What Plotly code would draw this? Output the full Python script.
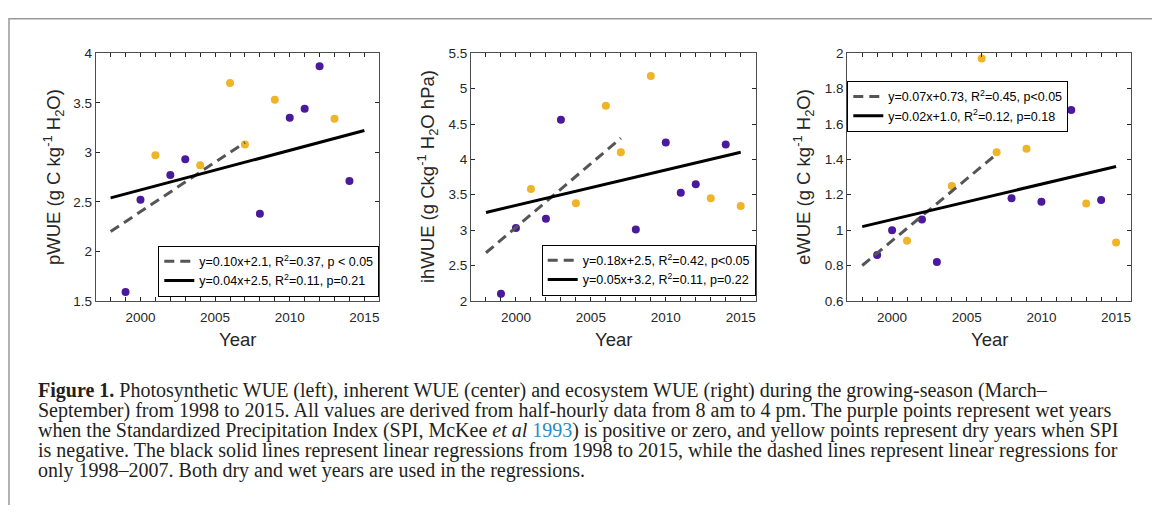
import plotly.graph_objects as go

W, H = 1152, 513

# ---------------- data ----------------
wet_years = [1999, 2000, 2002, 2003, 2008, 2010, 2011, 2012, 2014]
dry_years = [2001, 2004, 2006, 2007, 2009, 2013, 2015]
wet_years_e = [1999, 2000, 2002, 2003, 2008, 2010, 2012, 2014]

pwue_wet = [1.59, 2.52, 2.77, 2.93, 2.38, 3.35, 3.44, 3.87, 2.71]
pwue_dry = [2.97, 2.87, 3.70, 3.08, 3.53, 3.34, 2.01]
ihwue_wet = [2.10, 3.03, 3.16, 4.56, 3.01, 4.24, 3.53, 3.65, 4.21]
ihwue_dry = [3.58, 3.38, 4.76, 4.10, 5.18, 3.45, 3.34]
ewue_wet = [0.86, 1.00, 1.06, 0.82, 1.18, 1.16, 1.68, 1.17]
ewue_dry = [0.94, 1.25, 1.97, 1.44, 1.46, 1.15, 0.93]

full_years = [1998, 2015]
early_years = [1998, 2007]
pwue_full = [2.54, 3.22]
pwue_early = [2.20, 3.10]
ihwue_full = [3.25, 4.10]
ihwue_early = [2.68, 4.30]
ewue_full = [1.02, 1.36]
ewue_early = [0.80, 1.43]

labels_early = ["y=0.10x+2.1, R<sup>2</sup>=0.37, p < 0.05",
                "y=0.18x+2.5, R<sup>2</sup>=0.42, p<0.05",
                "y=0.07x+0.73, R<sup>2</sup>=0.45, p<0.05"]
labels_full = ["y=0.04x+2.5, R<sup>2</sup>=0.11, p=0.21",
               "y=0.05x+3.2, R<sup>2</sup>=0.11, p=0.22",
               "y=0.02x+1.0, R<sup>2</sup>=0.12, p=0.18"]

ytitles = ["pWUE (g C kg<sup>-1</sup> H<sub>2</sub>O)",
           "ihWUE (g Ckg<sup>-1</sup> H<sub>2</sub>O hPa)",
           "eWUE (g C kg<sup>-1</sup> H<sub>2</sub>O)"]

x_tickvals = [2000, 2005, 2010, 2015]
x_ticktext = ["2000", "2005", "2010", "2015"]
yticks_p = [1.5, 2, 2.5, 3, 3.5, 4]
yticks_ih = [2, 2.5, 3, 3.5, 4, 4.5, 5, 5.5]
yticks_e = [0.6, 0.8, 1, 1.2, 1.4, 1.6, 1.8, 2]

caption_lines = [
    "<b>Figure 1.</b> Photosynthetic WUE (left), inherent WUE (center) and ecosystem WUE (right) during the growing-season (March–",
    "September) from 1998 to 2015. All values are derived from half-hourly data from 8 am to 4 pm. The purple points represent wet years",
    "when the Standardized Precipitation Index (SPI, McKee <i>et al</i> <span style='color:#2a8ac6'>1993</span>) is positive or zero, and yellow points represent dry years when SPI",
    "is negative. The black solid lines represent linear regressions from 1998 to 2015, while the dashed lines represent linear regressions for",
    "only 1998–2007. Both dry and wet years are used in the regressions.",
]

# ---------------- styling ----------------
PURPLE = "#4b1a9c"
YELLOW = "#f0b429"
DASHGRAY = "#555555"
AXC = "#262626"
FONT = "Liberation Sans"

panels = [
    dict(wet_x=wet_years, wet=pwue_wet, dry=pwue_dry, full=pwue_full, early=pwue_early,
         yr=[1.5, 4], yt=yticks_p, px=(95.7, 379.3), title_x=53),
    dict(wet_x=wet_years, wet=ihwue_wet, dry=ihwue_dry, full=ihwue_full, early=ihwue_early,
         yr=[2, 5.5], yt=yticks_ih, px=(471.0, 755.7), title_x=427),
    dict(wet_x=wet_years_e, wet=ewue_wet, dry=ewue_dry, full=ewue_full, early=ewue_early,
         yr=[0.6, 2], yt=yticks_e, px=(847.3, 1131.0), title_x=803),
]
top_px, bot_px = 47.7, 302.7
legend_pos = [  # (x right px, y px, anchor)
    (379.3, 298.3, "bottom"),
    (755.7, 297.3, "bottom"),
    (847.3, 76.0, "top"),
]

fig = go.Figure()
layout = dict(
    width=W, height=H, margin=dict(l=0, r=0, t=0, b=0),
    paper_bgcolor="white", plot_bgcolor="white",
    font=dict(family=FONT, color=AXC),
)
annotations = []
shapes = []

for i, p in enumerate(panels):
    n = "" if i == 0 else str(i + 1)
    xa, ya = "x" + n, "y" + n
    lg = "legend" if i == 0 else "legend" + str(i + 1)
    fig.add_trace(go.Scatter(x=p["wet_x"], y=p["wet"], mode="markers", xaxis=xa, yaxis=ya,
                             marker=dict(color=PURPLE, size=8), showlegend=False))
    fig.add_trace(go.Scatter(x=dry_years, y=p["dry"], mode="markers", xaxis=xa, yaxis=ya,
                             marker=dict(color=YELLOW, size=8), showlegend=False))
    fig.add_trace(go.Scatter(x=early_years, y=p["early"], mode="lines", xaxis=xa, yaxis=ya,
                             line=dict(color=DASHGRAY, width=3, dash="10px,6px"),
                             name=labels_early[i], legend=lg))
    fig.add_trace(go.Scatter(x=full_years, y=p["full"], mode="lines", xaxis=xa, yaxis=ya,
                             line=dict(color="black", width=3),
                             name=labels_full[i], legend=lg))
    x0, x1 = p["px"]
    layout["xaxis" + n] = dict(
        domain=[x0 / W, x1 / W], range=[1997, 2016], anchor=ya,
        tickvals=x_tickvals, ticktext=x_ticktext, ticks="inside", ticklen=4,
        tickcolor=AXC, showline=True, linecolor="#4d4d4d", linewidth=1, mirror="ticks",
        showgrid=False, zeroline=False, ticklabelstandoff=4,
        minor=dict(dtick=1, tick0=1997, ticks="inside", ticklen=4, tickcolor=AXC, showgrid=False),
        tickfont=dict(family=FONT, size=13.5, color=AXC),
    )
    layout["yaxis" + n] = dict(
        domain=[1 - bot_px / H, 1 - top_px / H], range=p["yr"], anchor=xa,
        tickvals=p["yt"], ticktext=[f"{v:g}" for v in p["yt"]], ticks="inside", ticklen=4,
        tickcolor=AXC, showline=True, linecolor="#4d4d4d", linewidth=1, mirror="ticks",
        showgrid=False, zeroline=False,
        tickfont=dict(family=FONT, size=13.5, color=AXC),
    )
    lx, ly, anc = legend_pos[i]
    common = dict(bgcolor="white", bordercolor="black", borderwidth=1,
                  font=dict(family=FONT, size=12.5, color="black"),
                  itemwidth=30, tracegroupgap=0)
    if anc == "bottom":
        layout[lg] = dict(x=lx / W, xanchor="right", y=1 - ly / H, yanchor="bottom", **common)
    else:
        layout[lg] = dict(x=lx / W, xanchor="left", y=1 - ly / H, yanchor="top", **common)
    # axis titles
    annotations.append(dict(text="Year", xref="paper", yref="paper",
                            x=(x0 + x1) / 2 / W, y=1 - 342 / H, xanchor="center", yanchor="middle",
                            showarrow=False, font=dict(family=FONT, size=18.5, color=AXC)))
    annotations.append(dict(text=ytitles[i], xref="paper", yref="paper", textangle=-90,
                            x=p["title_x"] / W, y=1 - ((top_px + bot_px) / 2) / H,
                            xanchor="center", yanchor="middle",
                            showarrow=False, font=dict(family=FONT, size=18.5, color=AXC)))

# caption
for k, line in enumerate(caption_lines):
    annotations.append(dict(text=line, xref="paper", yref="paper",
                            x=36 / W, y=1 - (395 + 20.5 * k) / H, xanchor="left", yanchor="middle",
                            showarrow=False, align="left",
                            font=dict(family="Liberation Serif", size=20, color="#231f20")))

# frame
shapes.append(dict(type="path", xref="paper", yref="paper",
                   path=f"M {9/W},0 L {9/W},{1-12/H} L 1,{1-12/H}",
                   line=dict(color="#999999", width=1.5)))

layout["annotations"] = annotations
layout["shapes"] = shapes
fig.update_layout(**layout)
fig.write_html("out.html")
